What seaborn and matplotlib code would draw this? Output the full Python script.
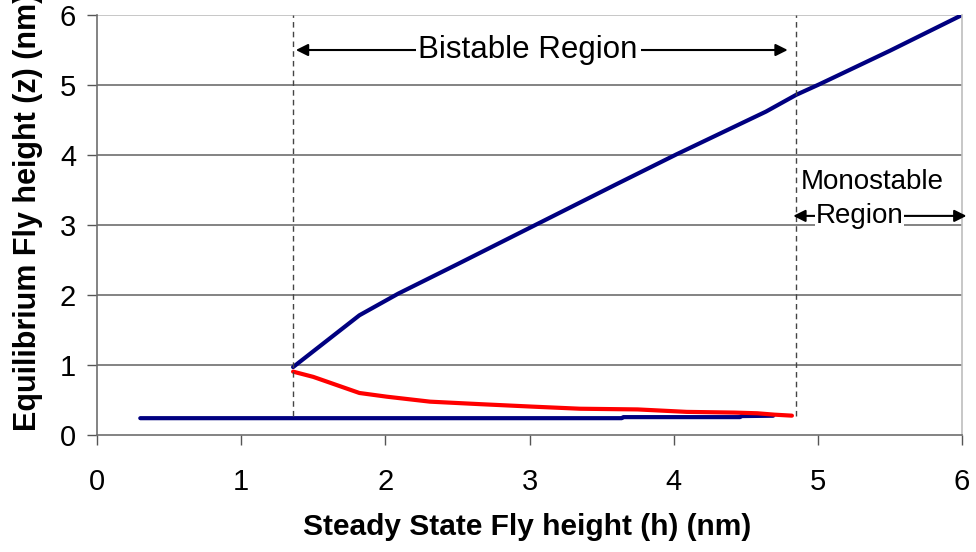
import numpy as np
import pandas as pd
import matplotlib
matplotlib.use("Agg")
import matplotlib.pyplot as plt
import seaborn as sns

# Upper stable branch (blue)
h_upper = [1.36, 1.82, 2.09, 2.5, 3.05, 3.6, 4.02, 4.64, 4.85, 5.01, 5.5, 6.0]
z_upper = [0.97, 1.71, 2.02, 2.44, 3.01, 3.58, 4.01, 4.62, 4.86, 5.01, 5.49, 6.0]

# Unstable branch (red)
h_unstable = [1.36, 1.50, 1.82, 2.01, 2.31, 2.66, 3.02, 3.35, 3.75, 4.09, 4.42, 4.58, 4.70, 4.82]
z_unstable = [0.905, 0.83, 0.60, 0.547, 0.476, 0.44, 0.405, 0.375, 0.365, 0.33, 0.32, 0.31, 0.29, 0.276]

# Lower stable branch (blue)
h_lower = [0.3, 1.0, 2.0, 3.0, 3.64, 3.65, 4.46, 4.47, 4.69]
z_lower = [0.24, 0.24, 0.24, 0.24, 0.24, 0.255, 0.255, 0.27, 0.275]

bistable_lo, bistable_hi = 1.36, 4.85
x_ticks = [0, 1, 2, 3, 4, 5, 6]
y_ticks = [0, 1, 2, 3, 4, 5, 6]

sns.set_style("white")
plt.rcParams['font.family'] = ['Liberation Sans', 'DejaVu Sans']
plt.rcParams['text.color'] = 'black'
plt.rcParams['xtick.color'] = 'black'
plt.rcParams['ytick.color'] = 'black'
plt.rcParams['axes.labelcolor'] = 'black'

fig = plt.figure(figsize=(9.76, 5.52), dpi=100)
ax = fig.add_axes([0.0994, 0.212, 0.8863, 0.7608])

up = pd.DataFrame({'h': h_upper, 'z': z_upper})
un = pd.DataFrame({'h': h_unstable, 'z': z_unstable})
lo = pd.DataFrame({'h': h_lower, 'z': z_lower})

sns.lineplot(data=lo, x='h', y='z', ax=ax, color='#000080', lw=3.0, sort=False)
sns.lineplot(data=un, x='h', y='z', ax=ax, color='#ff0000', lw=3.0, sort=False)
sns.lineplot(data=up, x='h', y='z', ax=ax, color='#000080', lw=3.0, sort=False)

ax.set_xlim(0, 6)
ax.set_ylim(0, 6)
ax.set_xticks(x_ticks)
ax.set_yticks(y_ticks)
ax.tick_params(axis='both', labelsize=21, direction='out', length=7, width=1,
               color='#555555', labelcolor='black', left=True, bottom=True)
ax.tick_params(axis='x', pad=17)
ax.tick_params(axis='y', pad=8)

for y in y_ticks[1:-1]:
    ax.axhline(y, color='#6e6e6e', lw=1.2, zorder=0)
ax.axhline(6, color='#bdbdbd', lw=1.2, zorder=0)

ax.spines['top'].set_visible(False)
ax.spines['right'].set_color('#bdbdbd')
ax.spines['left'].set_color('#6e6e6e')
ax.spines['bottom'].set_color('#6e6e6e')
for s in ax.spines.values():
    s.set_linewidth(1.2)

# dashed region boundaries
for xv in (bistable_lo, bistable_hi):
    ax.plot([xv, xv], [0.27, 6], ls=(0, (4, 3)), color='#444444', lw=1.0)

arrow = dict(arrowstyle='-|>', color='black', lw=1.5, mutation_scale=18)
ax.annotate('', xy=(bistable_lo, 5.5), xytext=(2.99, 5.5), arrowprops=arrow)
ax.annotate('', xy=(bistable_hi - 0.04, 5.5), xytext=(2.99, 5.5), arrowprops=arrow)
ax.text(2.99, 5.5, 'Bistable Region', fontsize=22.5, ha='center', va='center',
        bbox=dict(facecolor='white', edgecolor='none', pad=2))

ax.annotate('', xy=(bistable_hi - 0.04, 3.13), xytext=(5.3, 3.13), arrowprops=arrow,
            annotation_clip=False)
ax.annotate('', xy=(6.05, 3.13), xytext=(5.3, 3.13), arrowprops=arrow,
            annotation_clip=False)
ax.text(5.38, 3.62, 'Monostable', fontsize=20, ha='center', va='center')
ax.text(5.29, 3.13, 'Region', fontsize=20, ha='center', va='center',
        bbox=dict(facecolor='white', edgecolor='none', pad=0.5))

ax.set_xlabel('Steady State Fly height (h) (nm)', fontsize=21.5, fontweight='bold')
ax.set_ylabel('Equilibrium Fly height (z) (nm)', fontsize=22, fontweight='bold')
ax.xaxis.set_label_coords(0.4977, -0.186)
ax.yaxis.set_label_coords(-0.062, 0.532)

fig.savefig('out.png', dpi=100)
